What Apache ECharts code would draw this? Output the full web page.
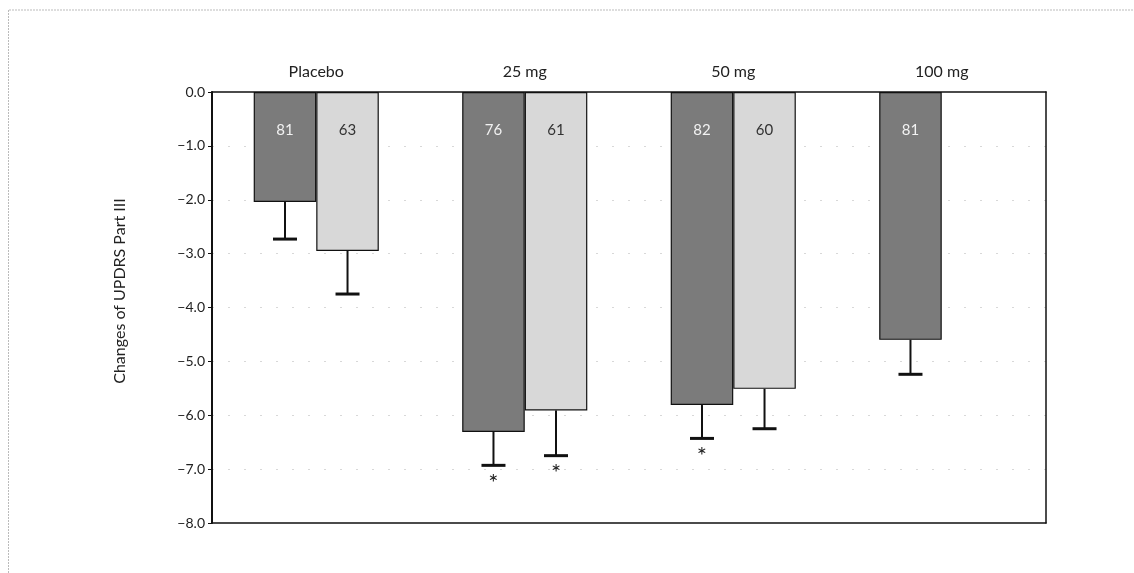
<!DOCTYPE html>
<html>
<head>
<meta charset="utf-8">
<script src="https://cdn.jsdelivr.net/npm/echarts@6/dist/echarts.min.js"></script>
<style>
html,body{margin:0;padding:0;background:#fff;}
#chart{width:1134px;height:573px;}
</style>
</head>
<body>
<div id="chart"></div>
<script>
// ---- data ----
const categories = ['Placebo', '25 mg', '50 mg', '100 mg'];
const yTicks = [0, -1, -2, -3, -4, -5, -6, -7, -8];
const darkMeans = [-2.04, -6.31, -5.81, -4.60];
const darkErrLow = [-2.73, -6.93, -6.43, -5.24];
const darkN = [81, 76, 82, 81];
const darkSig = [false, true, true, false];
const lightMeans = [-2.95, -5.91, -5.51, null];
const lightErrLow = [-3.75, -6.75, -6.25, null];
const lightN = [63, 61, 60, null];
const lightSig = [false, true, false, false];
const yAxisTitle = 'Changes of UPDRS Part III';

// ---- styles ----
const FONT = 'Lato, "Open Sans", sans-serif';
const DARK = '#7b7b7b';
const LIGHT = '#d8d8d8';
const BAR_FRAC = 0.30;

function buildErr(means, lows, ns, sigs) {
  const out = [];
  means.forEach((m, i) => {
    if (m === null || m === undefined) return;
    out.push([i, m, lows[i], ns[i], sigs[i] ? 1 : 0]);
  });
  return out;
}

function makeRender(side, textColor) {
  return function (params, api) {
    const i = api.value(0);
    const mean = api.value(1);
    const low = api.value(2);
    const n = api.value(3);
    const sig = api.value(4);
    const band = api.size([1, 0])[0];
    const barW = band * BAR_FRAC;
    const c = api.coord([i, 0]);
    const x = c[0] + side * barW / 2;
    const yTop = c[1];
    const yMean = api.coord([i, mean])[1];
    const yLow = api.coord([i, low])[1];
    const capHalf = 12;
    const children = [
      { type: 'line', shape: { x1: x, y1: yMean, x2: x, y2: yLow }, style: { stroke: '#111', lineWidth: 2 } },
      { type: 'line', shape: { x1: x - capHalf, y1: yLow, x2: x + capHalf, y2: yLow }, style: { stroke: '#111', lineWidth: 3 } },
      { type: 'text', x: x, y: yTop + 38, style: { text: String(n), fill: textColor, font: '15px ' + FONT, align: 'center', verticalAlign: 'middle' } }
    ];
    if (sig) {
      children.push({ type: 'text', x: x, y: yLow + 6, style: { text: '*', fill: '#222', font: '24px ' + FONT, align: 'center', verticalAlign: 'top' } });
    }
    return { type: 'group', children: children };
  };
}

const chart = echarts.init(document.getElementById('chart'), null, { renderer: 'canvas' });
chart.setOption({
  backgroundColor: '#fff',
  animation: false,
  grid: { left: 212, top: 92, right: 88, bottom: 50, show: false },
  xAxis: [{
    type: 'category',
    position: 'top',
    data: categories,
    axisLine: { onZero: false, lineStyle: { color: '#111', width: 1.5 } },
    axisTick: { show: false },
    axisLabel: { color: '#222', fontSize: 16, fontFamily: FONT, margin: 12 },
    splitLine: { show: false }
  }, {
    type: 'category',
    position: 'bottom',
    data: categories,
    axisLine: { onZero: false, lineStyle: { color: '#111', width: 1.5 } },
    axisTick: { show: false },
    axisLabel: { show: false },
    splitLine: { show: false }
  }],
  yAxis: [{
    type: 'value',
    min: -8, max: 0, interval: 1,
    axisLine: { show: true, onZero: false, lineStyle: { color: '#111', width: 2 } },
    axisTick: { show: true, length: 4, lineStyle: { color: '#111' } },
    axisLabel: {
      color: '#222', fontSize: 14, fontFamily: FONT, margin: 7,
      formatter: v => yTicks.indexOf(v) >= 0 ? (v < 0 ? '\u2212' + Math.abs(v).toFixed(1) : v.toFixed(1)) : ''
    },
    splitLine: { show: true, showMinLine: false, showMaxLine: false, lineStyle: { color: '#d8d8d8', type: [2, 14], width: 1 } }
  }, {
    type: 'value',
    position: 'right',
    min: -8, max: 0, interval: 1,
    axisLine: { show: true, onZero: false, lineStyle: { color: '#111', width: 1.5 } },
    axisTick: { show: false },
    axisLabel: { show: false },
    splitLine: { show: false }
  }],
  graphic: [
    { type: 'line', shape: { x1: 9, y1: 10, x2: 1134, y2: 10 }, style: { stroke: '#bbb', lineWidth: 1, lineDash: [2, 1] } },
    { type: 'line', shape: { x1: 8.5, y1: 10, x2: 8.5, y2: 573 }, style: { stroke: '#bbb', lineWidth: 1, lineDash: [2, 1] } },
    { type: 'text', x: 120, y: 291, rotation: Math.PI / 2, style: { text: yAxisTitle, fill: '#222', font: '16px ' + FONT, align: 'center', verticalAlign: 'middle' } }
  ],
  series: [
    {
      type: 'bar', data: darkMeans, barWidth: (BAR_FRAC * 100) + '%', barGap: '0%',
      itemStyle: { color: DARK, borderColor: '#111', borderWidth: 1.2 }, z: 2
    },
    {
      type: 'bar', data: lightMeans, barWidth: (BAR_FRAC * 100) + '%', barGap: '0%',
      itemStyle: { color: LIGHT, borderColor: '#111', borderWidth: 1.2 }, z: 2
    },
    {
      type: 'custom', data: buildErr(darkMeans, darkErrLow, darkN, darkSig),
      renderItem: makeRender(-1, '#f2f2f2'), z: 5, encode: { x: 0, y: [1, 2] }
    },
    {
      type: 'custom', data: buildErr(lightMeans, lightErrLow, lightN, lightSig),
      renderItem: makeRender(1, '#333'), z: 5, encode: { x: 0, y: [1, 2] }
    }
  ]
});
</script>
</body>
</html>
